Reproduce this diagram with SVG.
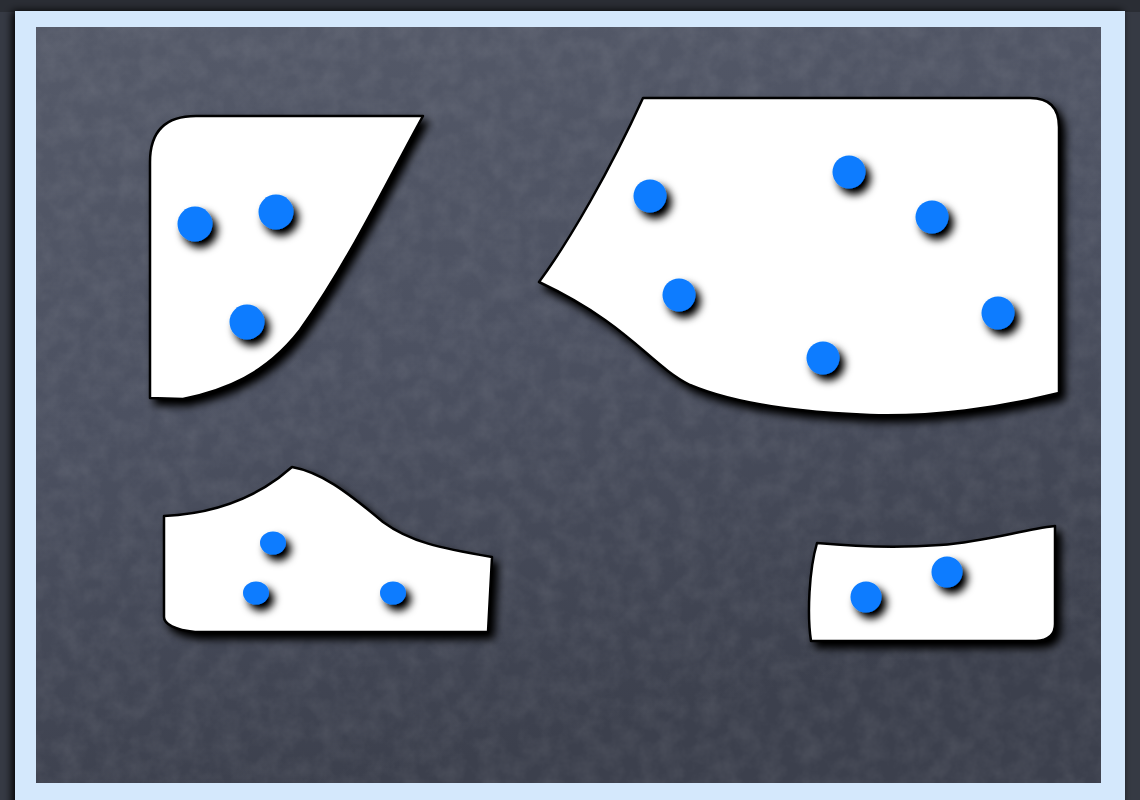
<svg xmlns="http://www.w3.org/2000/svg" width="1140" height="800" viewBox="0 0 1140 800">
<defs>
<linearGradient id="board" x1="0" y1="0" x2="0.3" y2="1">
<stop offset="0" stop-color="#555a69"/>
<stop offset="0.5" stop-color="#4c5161"/>
<stop offset="1" stop-color="#3c404d"/>
</linearGradient>
<filter id="noise" x="0" y="0" width="100%" height="100%">
<feTurbulence type="fractalNoise" baseFrequency="0.05" numOctaves="4" seed="7" result="n"/>
<feColorMatrix type="matrix" values="0 0 0 0 1  0 0 0 0 1  0 0 0 0 1  0 0 0 0.12 -0.04" in="n"/>
</filter>
<filter id="shapeShadow" x="-10%" y="-10%" width="125%" height="130%">
<feGaussianBlur in="SourceAlpha" stdDeviation="4.5"/>
<feOffset dx="5" dy="6" result="b"/>
<feComponentTransfer><feFuncA type="linear" slope="1.1"/></feComponentTransfer>
<feMerge><feMergeNode/><feMergeNode in="SourceGraphic"/></feMerge>
</filter>
<filter id="dotShadow" x="-50%" y="-50%" width="220%" height="220%">
<feGaussianBlur in="SourceAlpha" stdDeviation="4"/>
<feOffset dx="5" dy="6" result="b"/>
<feComponentTransfer><feFuncA type="linear" slope="1.1"/></feComponentTransfer>
<feMerge><feMergeNode/><feMergeNode in="SourceGraphic"/></feMerge>
</filter>
<filter id="frameShadow" x="-5%" y="-5%" width="110%" height="110%">
<feGaussianBlur in="SourceAlpha" stdDeviation="4"/>
<feOffset dx="-3" dy="0"/>
<feMerge><feMergeNode/><feMergeNode in="SourceGraphic"/></feMerge>
</filter>
</defs>
<style>
.piece{fill:#ffffff;stroke:#000000;stroke-width:2.5;stroke-linejoin:round}
.dot{fill:#0a7bff}
</style>
<rect x="0" y="0" width="1140" height="800" fill="#363a44"/>
<rect x="0" y="0" width="1140" height="12" fill="#2a2d34"/>
<g id="frame" filter="url(#frameShadow)">
<rect x="15" y="11" width="1110" height="800" fill="#d4e8fc"/>
</g>
<rect x="36" y="27" width="1065" height="756" fill="url(#board)"/>
<rect x="36" y="27" width="1065" height="756" filter="url(#noise)"/>

<g id="piece1" filter="url(#shapeShadow)">
<path class="piece" d="M150,162 Q150,116 196,116 L423,116 C390,175 350,260 300,330 C265,375 225,390 183,399 L150,398 Z"/>
</g>
<g id="piece1-dots" filter="url(#dotShadow)">
<circle class="dot" cx="195" cy="224" r="17.5"/>
<circle class="dot" cx="276" cy="212" r="17.5"/>
<circle class="dot" cx="247" cy="322" r="17.5"/>
</g>

<g id="piece2" filter="url(#shapeShadow)">
<path class="piece" d="M643,98 L1030,98 Q1059,98 1059,127 L1059,393 C1000,408 930,417 870,415 C790,412 730,402 690,385 C650,365 630,325 539,282 C570,240 610,170 643,98 Z"/>
</g>
<g id="piece2-dots" filter="url(#dotShadow)">
<circle class="dot" cx="650" cy="196" r="16.5"/>
<circle class="dot" cx="849" cy="172" r="16.5"/>
<circle class="dot" cx="932" cy="217" r="16.5"/>
<circle class="dot" cx="679" cy="295" r="16.5"/>
<circle class="dot" cx="998" cy="313" r="16.5"/>
<circle class="dot" cx="823" cy="358" r="16.5"/>
</g>

<g id="piece3" filter="url(#shapeShadow)">
<path class="piece" d="M164,516 C210,514 255,500 292,467 C320,472 345,490 383,522 C410,542 440,548 492,557 L488,632 L195,632 C175,630 164,624 164,617 Z"/>
</g>
<g id="piece3-dots" filter="url(#dotShadow)">
<ellipse class="dot" cx="273" cy="543" rx="13" ry="11.5"/>
<ellipse class="dot" cx="256" cy="593" rx="13" ry="11.5"/>
<ellipse class="dot" cx="393" cy="593" rx="13" ry="11.5"/>
</g>

<g id="piece4" filter="url(#shapeShadow)">
<path class="piece" d="M817,543 C860,547 900,548 940,545 C990,541 1020,530 1055,526 L1055,624 Q1055,640 1036,641 L811,641 C807,615 809,570 817,543 Z"/>
</g>
<g id="piece4-dots" filter="url(#dotShadow)">
<circle class="dot" cx="866" cy="597" r="15.5"/>
<circle class="dot" cx="947" cy="572" r="15.5"/>
</g>
</svg>
